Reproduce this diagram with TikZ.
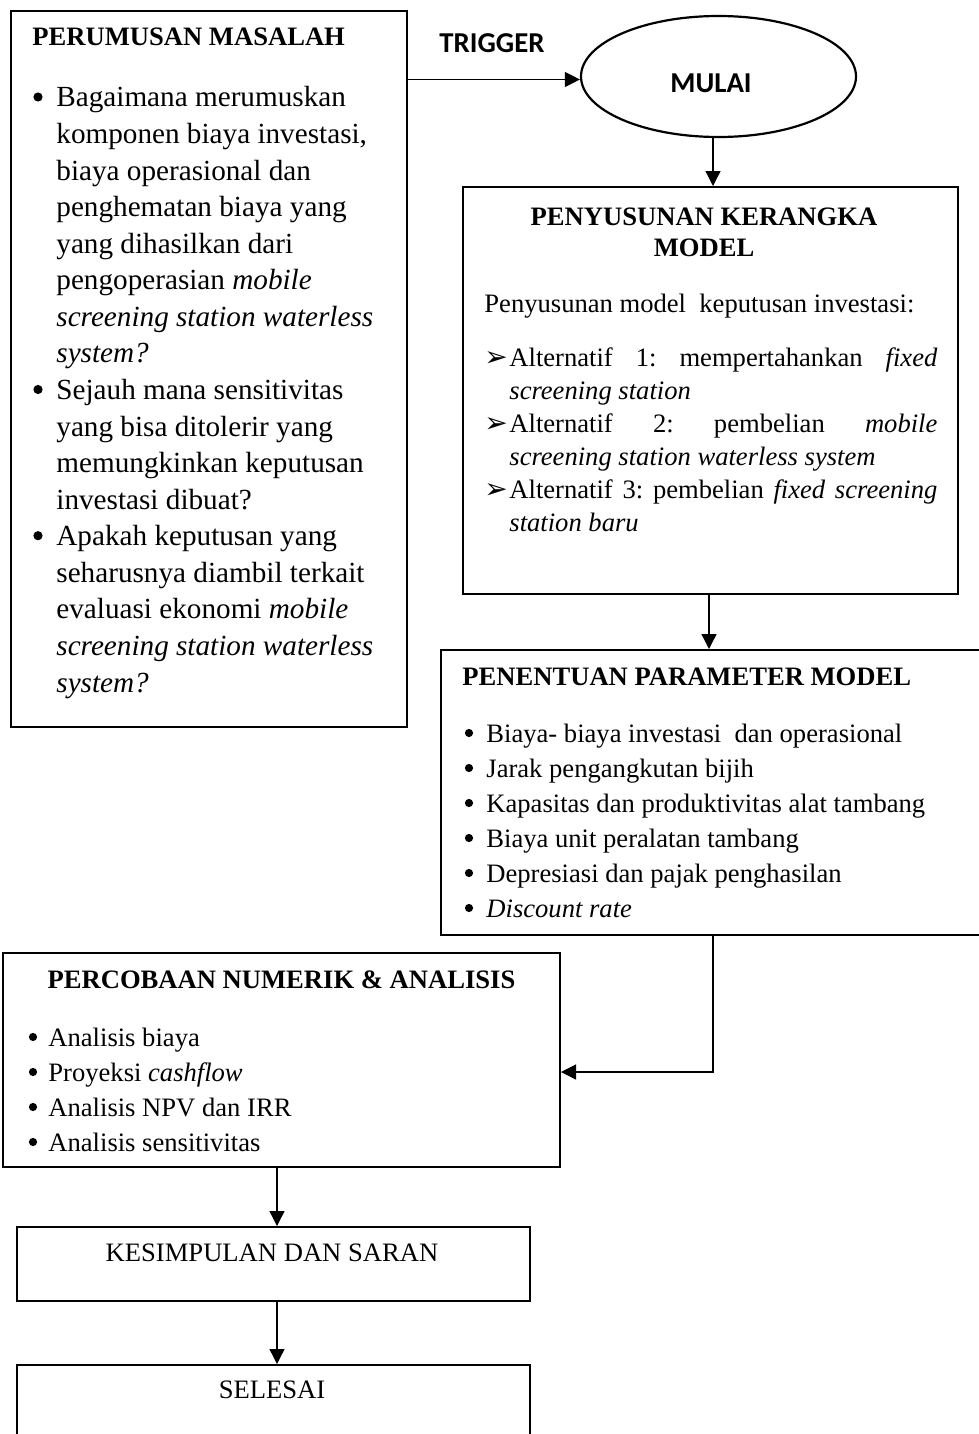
\documentclass[tikz,border=0pt]{standalone}
\usepackage{fontspec}
\setmainfont{Liberation Serif}
\newfontfamily\calib{Carlito}
\newfontfamily\dejavu{DejaVu Sans}
\usetikzlibrary{arrows.meta,shapes.geometric}
\frenchspacing
\newcommand\Lline[3]{\node[bodyL] (#1) at (56,#2) {#3};}
\begin{document}
\begin{tikzpicture}[x=0.5pt,y=-0.5pt,
  box/.style={draw, line width=1pt, rectangle, inner sep=0pt},
  conn/.style={line width=0.65pt, -{Triangle[length=7.5pt,width=7.5pt]}},
  ttl/.style={font=\fontsize{13.3}{16}\selectfont\bfseries, inner sep=0pt},
  cal/.style={font=\calib\bfseries\fontsize{14.4}{17}\selectfont, inner sep=0pt},
  plain/.style={font=\fontsize{13.3}{16}\selectfont, inner sep=0pt},
  bodyL/.style={font=\fontsize{14.6}{18}\selectfont, inner sep=0pt, anchor=base west},
  bodyR/.style={font=\fontsize{13.3}{16}\selectfont, inner sep=0pt, anchor=base west},
  bulL/.style={circle, fill, inner sep=0pt, minimum size=4.6pt},
  bulR/.style={circle, fill, inner sep=0pt, minimum size=4.1pt},
  arw/.style={font=\dejavu\fontsize{14}{16}\selectfont, inner sep=0pt, anchor=base west},
]
\useasboundingbox (0,0) rectangle (979,1434);

% boxes
\node[box, minimum width=198pt, minimum height=358pt] (b1) at (209,369) {};
\node[draw, ellipse, line width=1.1pt, inner sep=0pt, minimum width=137.5pt, minimum height=60.5pt] (ell) at (718.5,76.5) {};
\node[box, minimum width=247.5pt, minimum height=203.5pt] (b2) at (710.5,390.5) {};
\node[box, minimum width=274.5pt, minimum height=142.5pt] (b3) at (715.5,792.5) {};
\node[box, minimum width=278.5pt, minimum height=107pt] (b4) at (281.5,1060) {};
\node[box, minimum width=256.5pt, minimum height=37pt] (b5) at (273.5,1264) {};
\node[box, minimum width=256.5pt, minimum height=50pt] (b6) at (273.5,1415) {};

% trigger / start
\node[cal] (trig) at (492,43) {TRIGGER};
\node[cal] (mulai) at (711,83) {MULAI};

% box 1
\node[ttl, anchor=west] (t1) at (32,37) {PERUMUSAN MASALAH};
\node[bulL] (u1) at (38,97) {};
\Lline{l0}{107}{Bagaimana merumuskan}
\Lline{l1}{143.6}{komponen biaya investasi,}
\Lline{l2}{180.1}{biaya operasional dan}
\Lline{l3}{216.7}{penghematan biaya yang}
\Lline{l4}{253.2}{yang dihasilkan dari}
\Lline{l5}{289.8}{pengoperasian \textit{mobile}}
\Lline{l6}{326.4}{\textit{screening station waterless}}
\Lline{l7}{362.9}{\textit{system?}}
\node[bulL] (u2) at (38,389.5) {};
\Lline{l8}{399.5}{Sejauh mana sensitivitas}
\Lline{l9}{436}{yang bisa ditolerir yang}
\Lline{l10}{472.6}{memungkinkan keputusan}
\Lline{l11}{509.2}{investasi dibuat?}
\node[bulL] (u3) at (38,535.7) {};
\Lline{l12}{545.7}{Apakah keputusan yang}
\Lline{l13}{582.3}{seharusnya diambil terkait}
\Lline{l14}{618.8}{evaluasi ekonomi \textit{mobile}}
\Lline{l15}{655.4}{\textit{screening station waterless}}
\Lline{l16}{692}{\textit{system?}}

% box 2
\node[ttl] (t2a) at (704,217) {PENYUSUNAN KERANGKA};
\node[ttl] (t2b) at (704,248) {MODEL};
\node[bodyR] (p0) at (484,312) {Penyusunan model~ keputusan investasi:};
\node[arw] (a1) at (484,366) {➢};
\node[bodyR] (p1) at (509,366) {\makebox[214pt][s]{Alternatif 1: mempertahankan \textit{fixed}}};
\node[bodyR] (p2) at (509,399) {\textit{screening station}};
\node[arw] (a2) at (484,432) {➢};
\node[bodyR] (p3) at (509,432) {\makebox[214pt][s]{Alternatif 2: pembelian \textit{mobile}}};
\node[bodyR] (p4) at (509,465) {\textit{screening station waterless system}};
\node[arw] (a3) at (484,498) {➢};
\node[bodyR] (p5) at (509,498) {\makebox[214pt][s]{Alternatif 3: pembelian \textit{fixed screening}}};
\node[bodyR] (p6) at (509,531) {\textit{station baru}};

% box 3
\node[ttl, anchor=west] (t3) at (462,677) {PENENTUAN PARAMETER MODEL};
\node[bulR] (v1) at (469,733) {};
\node[bodyR] (q1) at (486,742) {Biaya- biaya investasi~ dan operasional};
\node[bulR] (v2) at (469,768) {};
\node[bodyR] (q2) at (486,777) {Jarak pengangkutan bijih};
\node[bulR] (v3) at (469,803) {};
\node[bodyR] (q3) at (486,812) {Kapasitas dan produktivitas alat tambang};
\node[bulR] (v4) at (469,838) {};
\node[bodyR] (q4) at (486,847) {Biaya unit peralatan tambang};
\node[bulR] (v5) at (469,873) {};
\node[bodyR] (q5) at (486,882) {Depresiasi dan pajak penghasilan};
\node[bulR] (v6) at (469,908) {};
\node[bodyR] (q6) at (486,917) {\textit{Discount rate}};

% box 4
\node[ttl] (t4) at (281.5,980) {PERCOBAAN NUMERIK \& ANALISIS};
\node[bulR] (w1) at (33,1037) {};
\node[bodyR] (r1) at (48,1046) {Analisis biaya};
\node[bulR] (w2) at (33,1072) {};
\node[bodyR] (r2) at (48,1081) {Proyeksi \textit{cashflow}};
\node[bulR] (w3) at (33,1107) {};
\node[bodyR] (r3) at (48,1116) {Analisis NPV dan IRR};
\node[bulR] (w4) at (33,1142) {};
\node[bodyR] (r4) at (48,1151) {Analisis sensitivitas};

% box 5, 6
\node[plain] (t5) at (272,1253) {KESIMPULAN DAN SARAN};
\node[plain] (t6) at (272,1390) {SELESAI};

% connectors
\coordinate (ctr) at (0,79.5);
\coordinate (ca) at (713,0);
\coordinate (cb) at (709,0);
\coordinate (cc) at (713,1072);
\coordinate (cd) at (277,0);
\draw[conn] (b1.east |- ctr) -- (ell.west |- ctr);
\draw[conn] (ell.south -| ca) -- (b2.north -| ca);
\draw[conn] (b2.south -| cb) -- (b3.north -| cb);
\draw[conn] (b3.south -| cc) |- (b4.east |- cc);
\draw[conn] (b4.south -| cd) -- (b5.north -| cd);
\draw[conn] (b5.south -| cd) -- (b6.north -| cd);
\end{tikzpicture}
\end{document}
